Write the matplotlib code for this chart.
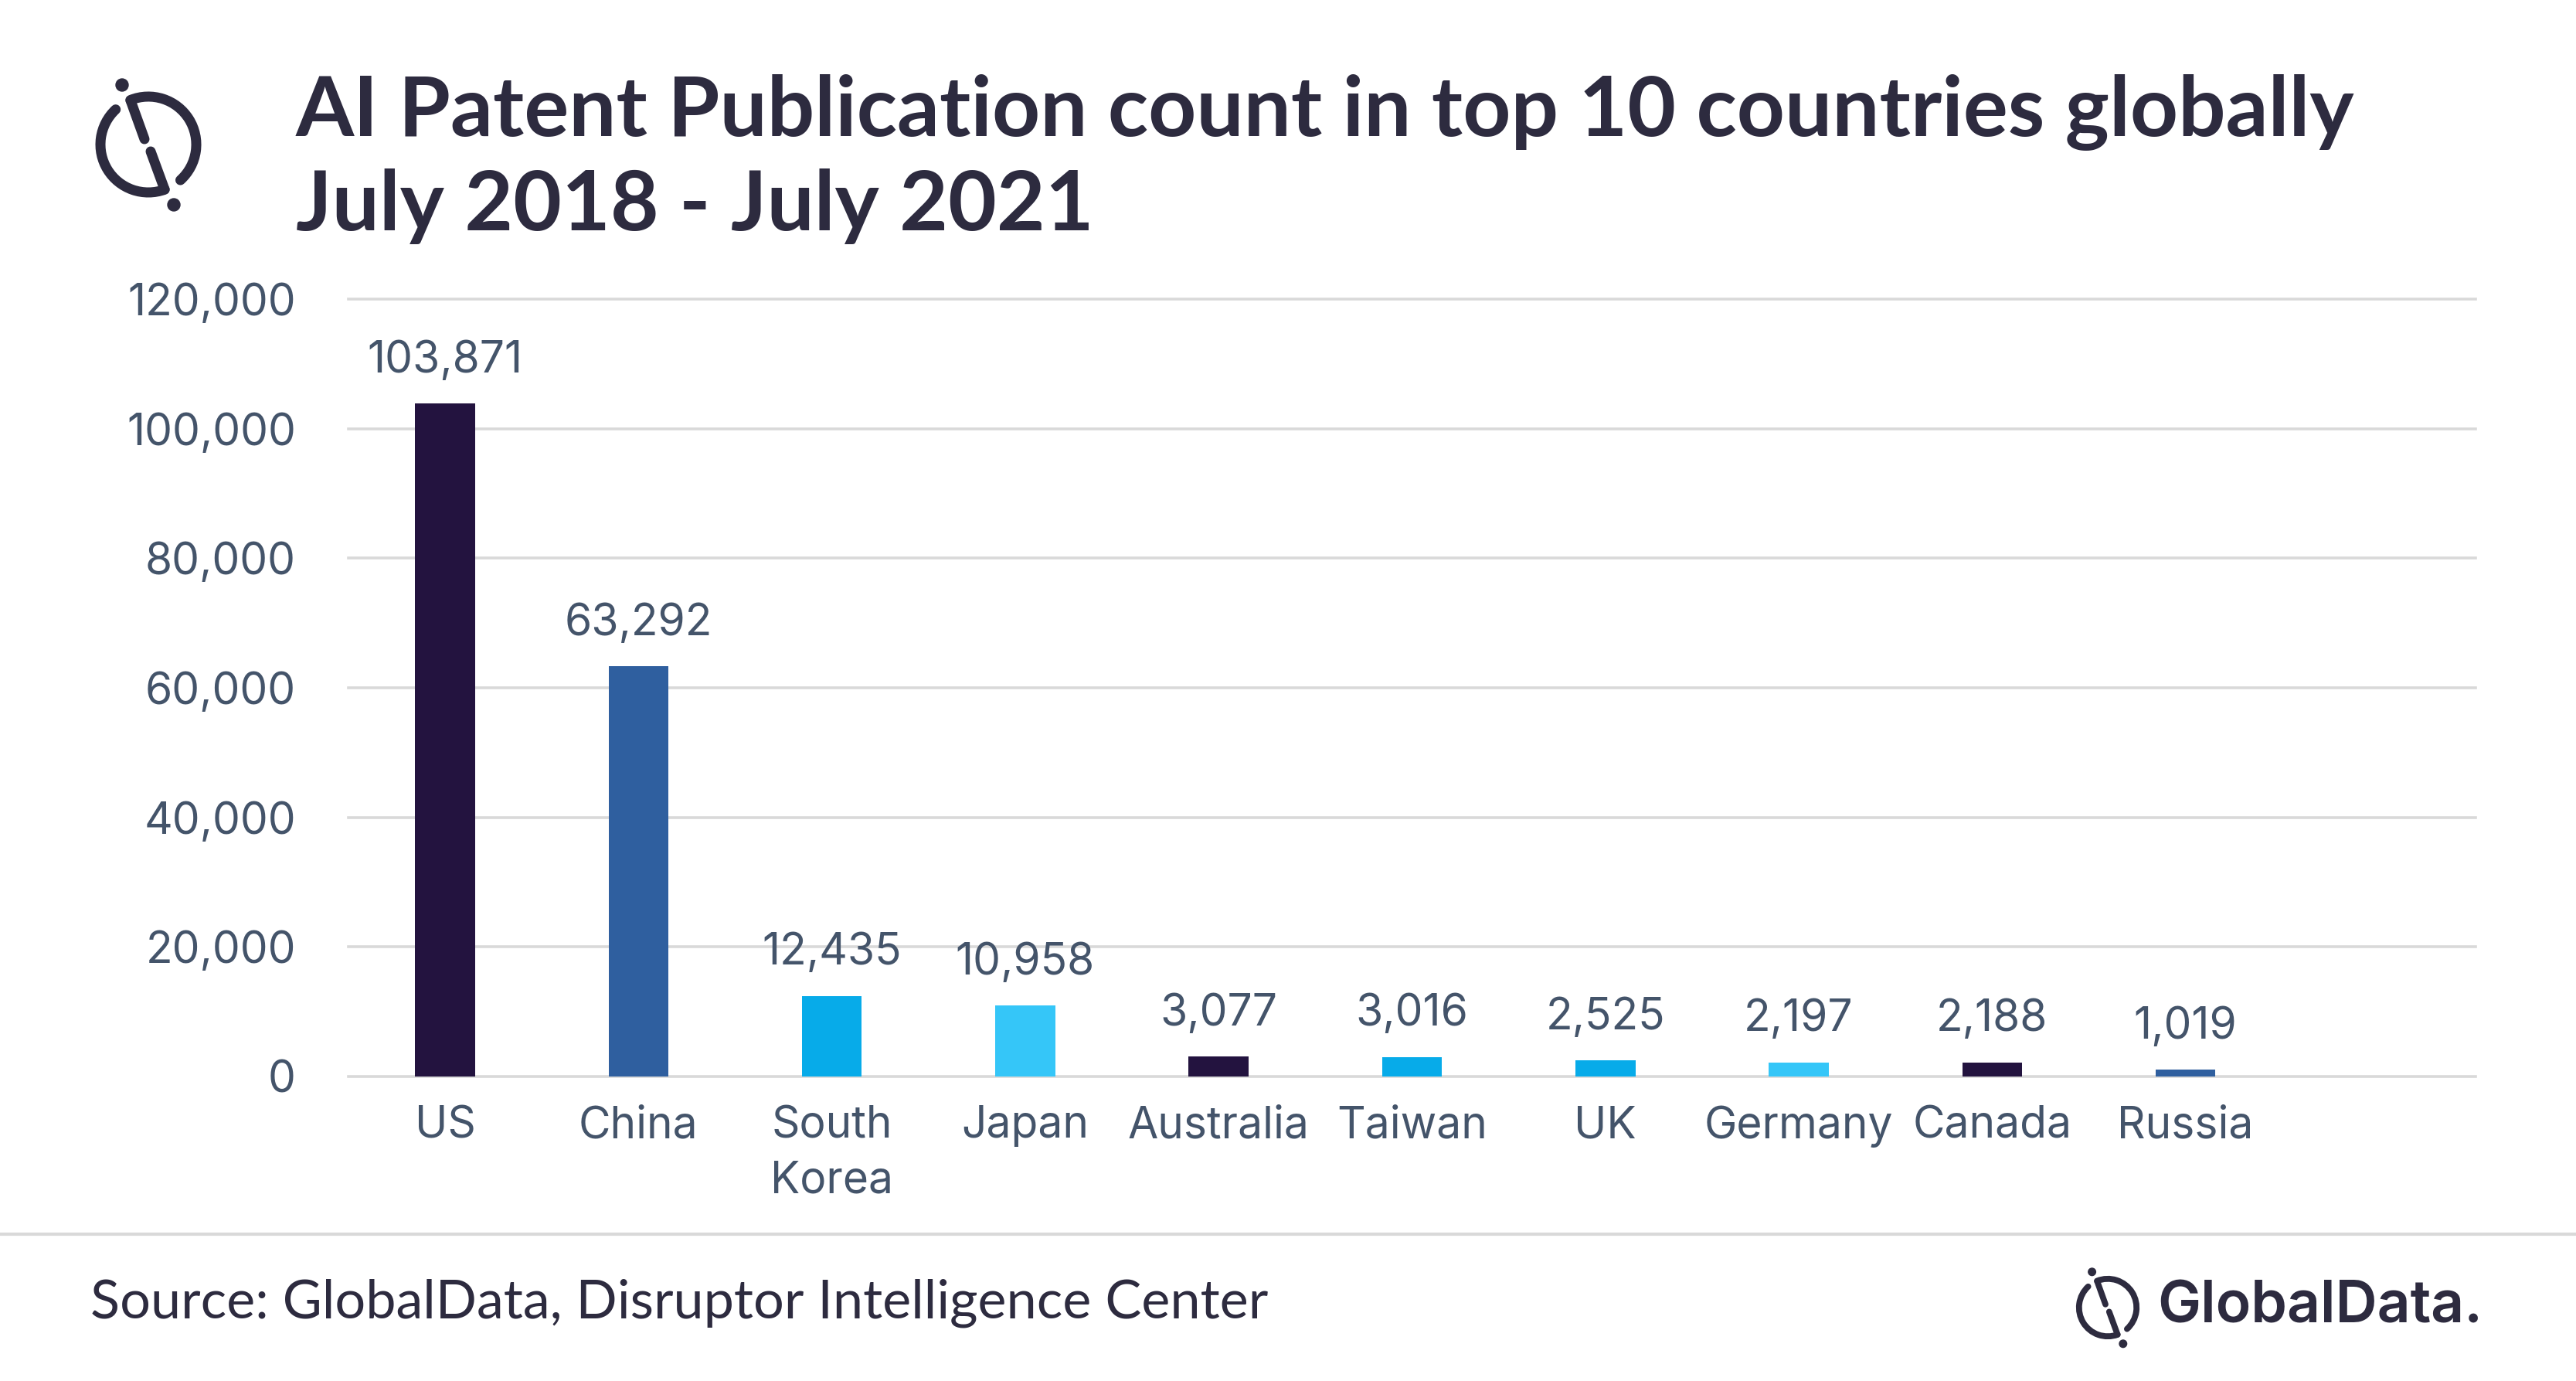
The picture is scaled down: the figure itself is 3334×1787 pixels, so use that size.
import numpy as np
import matplotlib
matplotlib.use("Agg")
import matplotlib.pyplot as plt
from matplotlib.patches import Arc, Circle

# data
countries = ["US", "China", "South\nKorea", "Japan", "Australia", "Taiwan",
             "UK", "Germany", "Canada", "Russia"]
counts = [103871, 63292, 12435, 10958, 3077, 3016, 2525, 2197, 2188, 1019]
bar_colors = ["#23133f", "#2f5f9f", "#07abe9", "#35c6f8", "#23133f", "#07abe9",
              "#07abe9", "#35c6f8", "#23133f", "#2f5f9f"]
yticks = [0, 20000, 40000, 60000, 80000, 100000, 120000]

title_lines = ["AI Patent Publication count in top 10 countries globally",
               "July 2018 - July 2021"]
source = "Source: GlobalData, Disruptor Intelligence Center"

W, H = 3334, 1787
DARK = "#2d2b3f"
LABEL = "#44546a"
GRID = "#d9d9d9"

fig = plt.figure(figsize=(W / 100, H / 100), dpi=100)

# main chart
ax = fig.add_axes([451 / W, 1 - 1393 / H, (3204 - 451) / W, (1393 - 387) / H])
x = np.arange(len(countries))
ax.bar(x, counts, width=0.31, color=bar_colors, zorder=3)
ax.set_xlim(-0.5, 10.5)
ax.set_ylim(0, 120000)
ax.set_yticks(yticks)
ax.set_yticklabels(["{:,}".format(v) for v in yticks])
ax.set_xticks(x)
ax.set_xticklabels(countries, linespacing=1.4)
for s in ax.spines.values():
    s.set_visible(False)
ax.grid(axis="y", color=GRID, linewidth=2.6, zorder=0)
for gl in ax.get_ygridlines():
    gl.set_clip_on(False)
ax.tick_params(axis="both", length=0, labelsize=41, labelcolor=LABEL)
ax.tick_params(axis="y", pad=49)
ax.tick_params(axis="x", pad=27)
for lab in ax.get_xticklabels() + ax.get_yticklabels():
    lab.set_fontfamily("Inter")

for xi, v in zip(x, counts):
    ax.annotate("{:,}".format(v), (xi, v), xytext=(0, 29), textcoords="offset points",
                ha="center", va="baseline", fontsize=41, color=LABEL, family="Inter")

# overlay in pixel units for header, footer and logos
ov = fig.add_axes([0, 0, 1, 1], zorder=-1)
ov.set_xlim(0, W)
ov.set_ylim(0, H)
ov.axis("off")


def py(y):
    return H - y


def logo(cx, cy, s):
    r = 62 * s
    lw = 13 * s * 0.72
    c = (cx, py(cy))
    ov.add_patch(Arc(c, 2 * r, 2 * r, theta1=-48, theta2=112, lw=lw,
                     color=DARK, capstyle="round"))
    ov.add_patch(Arc(c, 2 * r, 2 * r, theta1=133, theta2=290, lw=lw,
                     color=DARK, capstyle="round"))
    ov.plot([cx - 23 * s, cx - 5 * s], [py(cy - 57 * s), py(cy - 7 * s)],
            color=DARK, lw=lw, solid_capstyle="round")
    ov.plot([cx + 3 * s, cx + 21 * s], [py(cy + 9 * s), py(cy + 58 * s)],
            color=DARK, lw=lw, solid_capstyle="round")
    ov.add_patch(Circle((cx - 34 * s, py(cy - 77 * s)), 8 * s, color=DARK))
    ov.add_patch(Circle((cx + 33 * s, py(cy + 78 * s)), 8 * s, color=DARK))


logo(192, 187, 1.0)
logo(2728, 1692, 0.6)

for line, base in zip(title_lines, [176, 298]):
    ov.text(383, py(base), line, fontsize=78, fontweight="bold", family="Lato",
            color=DARK, ha="left", va="baseline")

ov.plot([0, W], [py(1597), py(1597)], color=GRID, lw=3)
ov.text(117, py(1686), source, fontsize=50.5, family="Lato", color=DARK,
        ha="left", va="center")
ov.text(2792, py(1692), "GlobalData.", fontsize=54, family="Inter",
        fontweight="semibold", color=DARK, ha="left", va="center")

fig.savefig("out.png", dpi=100)
